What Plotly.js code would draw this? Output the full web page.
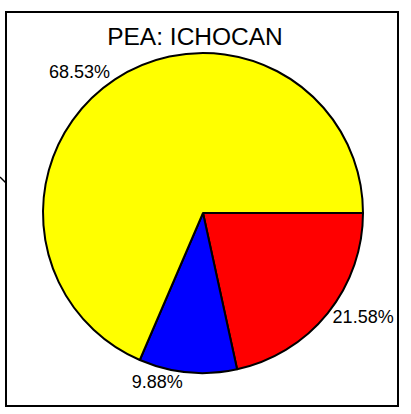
<!DOCTYPE html>
<html>
<head>
<meta charset="utf-8">
<script src="https://cdn.plot.ly/plotly-3.0.1.min.js"></script>
<style>html,body{margin:0;padding:0;background:#fff;}#chart{width:411px;height:414px;}</style>
</head>
<body>
<div id="chart"></div>
<script>
var categories = ["A", "B", "C"];
var values = [21.58, 9.88, 68.53];
var percentLabels = ["21.58%", "9.88%", "68.53%"];
var colors = ["#ff0000", "#0000ff", "#ffff00"];
var chartTitle = "PEA: ICHOCAN";

var W = 411, H = 414;
var cx = 203, cy = 213, r = 160;

var trace = {
  type: "pie",
  labels: categories,
  values: values,
  text: percentLabels,
  textinfo: "text",
  textposition: "outside",
  sort: false,
  direction: "clockwise",
  rotation: 90,
  marker: {colors: colors, line: {color: "#000", width: 2}},
  outsidetextfont: {family: "Liberation Sans, Arial, sans-serif", size: 18, color: "#000"},
  hoverinfo: "none",
  showlegend: false,
  domain: {x: [(cx - r) / W, (cx + r) / W], y: [(H - cy - r) / H, (H - cy + r) / H]}
};

var layout = {
  width: W, height: H,
  margin: {l: 0, r: 0, t: 0, b: 0},
  paper_bgcolor: "#fff",
  showlegend: false,
  title: {
    text: chartTitle,
    font: {family: "Liberation Sans, Arial, sans-serif", size: 24.5, color: "#000"},
    x: 195 / W, xanchor: "center",
    y: (H - 36) / H, yanchor: "middle", yref: "container", xref: "container"
  },
  shapes: [
    {type: "rect", xref: "paper", yref: "paper",
     x0: 6 / W, x1: 398 / W, y0: (H - 406) / H, y1: (H - 12) / H,
     line: {color: "#000", width: 2}, fillcolor: "rgba(0,0,0,0)"},
    {type: "line", xref: "paper", yref: "paper",
     x0: 0, y0: (H - 177) / H, x1: 6 / W, y1: (H - 183) / H,
     line: {color: "#000", width: 1.5}}
  ]
};

Plotly.newPlot("chart", [trace], layout, {staticPlot: true, displayModeBar: false});
</script>
</body>
</html>
